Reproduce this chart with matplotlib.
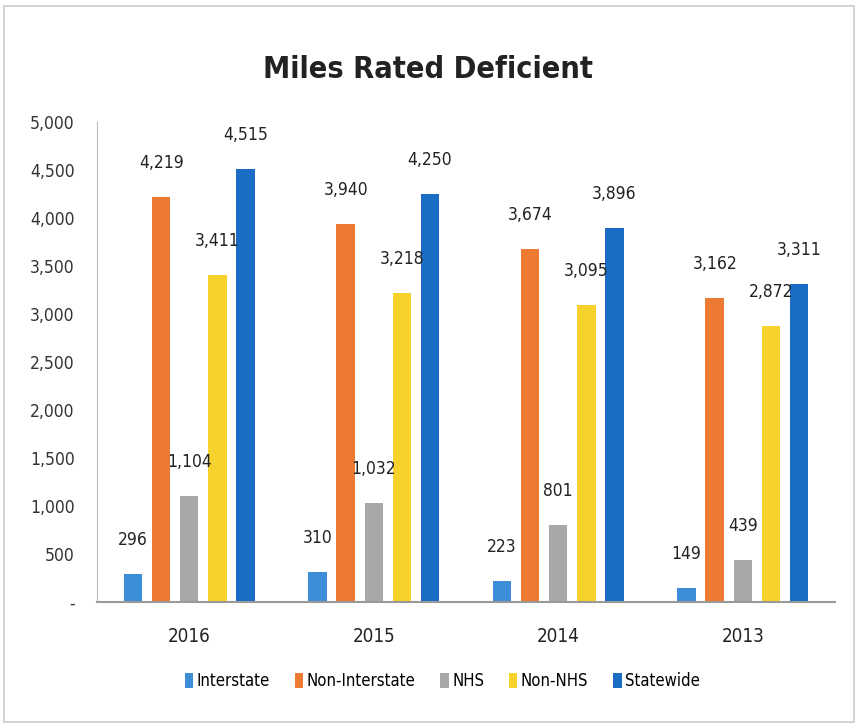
import numpy as np
import matplotlib.pyplot as plt
from matplotlib.patches import Rectangle

years = ["2016", "2015", "2014", "2013"]
series = ["Interstate", "Non-Interstate", "NHS", "Non-NHS", "Statewide"]
interstate = [296, 310, 223, 149]
non_interstate = [4219, 3940, 3674, 3162]
nhs = [1104, 1032, 801, 439]
non_nhs = [3411, 3218, 3095, 2872]
statewide = [4515, 4250, 3896, 3311]
yticks = [0, 500, 1000, 1500, 2000, 2500, 3000, 3500, 4000, 4500, 5000]

colors = ["#3d8ed8", "#ec7a32", "#a8a8a8", "#f7d12c", "#1a6cc4"]
plt.rcParams["font.family"] = ["DejaVu Sans"]
plt.rcParams["font.stretch"] = "condensed"

fig = plt.figure(figsize=(8.56, 7.28), dpi=100)
ax = fig.add_axes([97 / 856, 1 - 602 / 728, 738 / 856, 480 / 728])

x = np.arange(len(years))
width = 0.1
step = 0.152
for i, (name, vals) in enumerate(zip(series, [interstate, non_interstate, nhs, non_nhs, statewide])):
    pos = x + (i - 2) * step
    ax.bar(pos, vals, width, color=colors[i], label=name)
    for p, v in zip(pos, vals):
        ax.annotate(f"{v:,}", (p, v), xytext=(0, 18), textcoords="offset points",
                    ha="center", va="bottom", fontsize=12.5, color="#222222")

ax.set_xlim(-0.5, 3.5)
ax.set_ylim(0, 5000)
ax.set_yticks(yticks)
ax.set_yticklabels(["-" if t == 0 else f"{t:,}" for t in yticks], fontsize=12.5, color="#333333")
ax.set_xticks(x)
ax.set_xticklabels(years, fontsize=13.5, color="#222222")
ax.tick_params(length=0, axis="y", pad=16)
ax.tick_params(length=0, axis="x", pad=18)
for s in ["top", "right"]:
    ax.spines[s].set_visible(False)
ax.spines["left"].set_color("#bbbbbb")
ax.spines["bottom"].set_color("#999999")
ax.spines["bottom"].set_linewidth(1.5)

fig.text(0.5, 1 - 70 / 728, "Miles Rated Deficient", ha="center", va="center",
         fontsize=22, fontweight="bold", color="#222222")

ax.legend(loc="upper center", bbox_to_anchor=(0.468, -0.115), ncol=5, frameon=False,
          fontsize=12, handlelength=0.5, handleheight=1.0, handletextpad=0.2, columnspacing=1.5)

fig.patches.append(Rectangle((4 / 856, 6 / 728), 850 / 856, 716 / 728, transform=fig.transFigure,
                             fill=False, edgecolor="#cccccc", linewidth=1.2))

fig.savefig("out.png", dpi=100)
